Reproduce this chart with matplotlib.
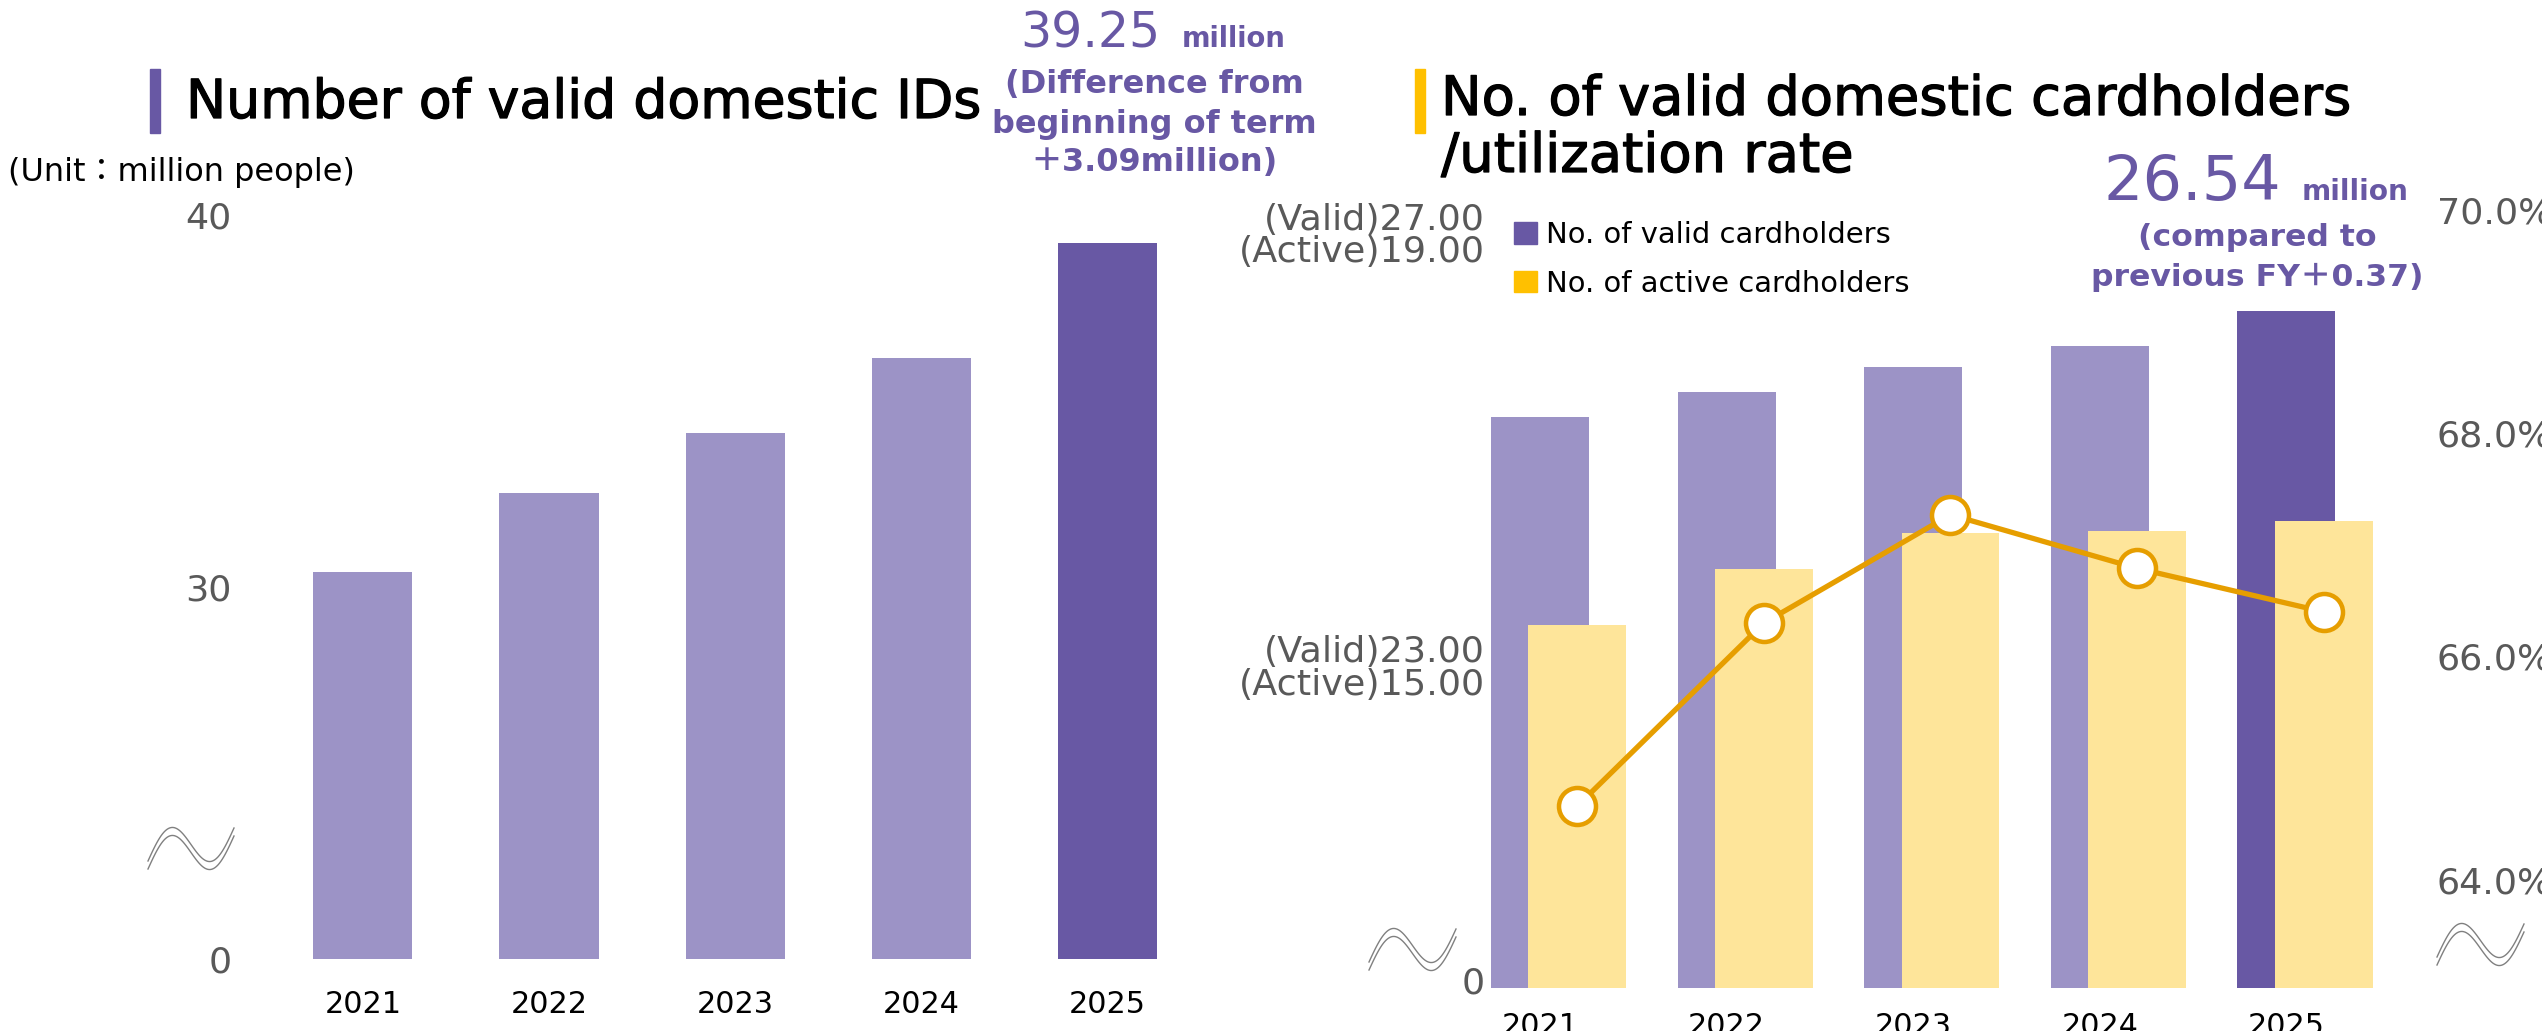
import numpy as np
import matplotlib
matplotlib.use("Agg")
import matplotlib.pyplot as plt
import matplotlib.patheffects as pe
from matplotlib.lines import Line2D
from matplotlib.patches import Rectangle

# ---------------- data ----------------
years = ["2021", "2022", "2023", "2024", "2025"]
ids_values = [30.41, 32.52, 34.13, 36.16, 39.25]          # million IDs
id_ticks = [0, 30, 40]
id_tick_labels = ["0", "30", "40"]

valid_cardholders = [25.42, 25.68, 25.95, 26.17, 26.54]   # million
active_cardholders = [16.52, 17.11, 17.49, 17.51, 17.62]  # million
utilization_rate = [64.66, 66.30, 67.27, 66.79, 66.40]    # %
rate_ticks = [64, 66, 68, 70]
rate_tick_labels = ["64.0%", "66.0%", "68.0%", "70.0%"]
card_tick_labels = ["0", "(Valid)23.00\n(Active)15.00", "(Valid)27.00\n(Active)19.00"]

# ---------------- style ----------------
W, H, DPI = 2542, 1031, 100
LIGHT_PURPLE = "#9c93c6"
DARK_PURPLE = "#6858a4"
LIGHT_YELLOW = "#fee59a"
GOLD = "#ffc000"
ORANGE = "#e69e00"
GREY = "#595959"

plt.rcParams['font.family'] = ['DejaVu Sans', 'Noto Sans CJK JP']

fig = plt.figure(figsize=(W / DPI, H / DPI), dpi=DPI)


def pt(px):
    return px * 72.0 / DPI


def rect(x0, y0, x1, y1):
    return [x0 / W, 1 - y1 / H, (x1 - x0) / W, (y1 - y0) / H]


def ftext(x, y, s, **kw):
    return fig.text(x / W, 1 - y / H, s, **kw)


def wave(x0, y0, w, h):
    t = np.linspace(0, 1, 60)
    for off in (0, 8):
        xs = x0 + t * w
        ys = y0 + off - h * t - 0.75 * h * np.sin(2 * np.pi * t)
        fig.add_artist(Line2D(xs / W, 1 - ys / H, color="#808080", lw=1.0))


heavy = [pe.withStroke(linewidth=0.9, foreground="black")]

# ---------------- left chart ----------------
ax1 = fig.add_axes(rect(269.7, 215, 1200.8, 959))


def fwd(v):
    v = np.asarray(v, dtype=float)
    return np.where(v <= 30, v / 3.0, v - 20.0)


def inv(u):
    u = np.asarray(u, dtype=float)
    return np.where(u <= 10, u * 3.0, u + 20.0)


ax1.set_yscale('function', functions=(fwd, inv))
x = np.arange(len(years))
colors1 = [LIGHT_PURPLE] * (len(years) - 1) + [DARK_PURPLE]
ax1.bar(x, ids_values, width=0.532, color=colors1)
ax1.set_xlim(-0.5, len(years) - 0.5)
ax1.set_ylim(0, 40)
ax1.set_yticks(id_ticks)
ax1.set_yticklabels(id_tick_labels)
ax1.set_xticks(x)
ax1.set_xticklabels(years)
ax1.tick_params(axis='y', length=0, pad=pt(38), labelsize=pt(36.5), labelcolor=GREY)
ax1.tick_params(axis='x', length=0, pad=pt(31), labelsize=pt(30.3), labelcolor="black")
for s in ax1.spines.values():
    s.set_visible(False)

# ---------------- right chart ----------------
ax2 = fig.add_axes(rect(1489, 210, 2379.7, 988))
ax3 = ax2.twinx()
ax4 = ax2.twinx()
colors2 = [LIGHT_PURPLE] * (len(years) - 1) + [DARK_PURPLE]
ax2.bar(x, valid_cardholders, width=0.525, color=colors2)
ax3.bar(x + 0.2, active_cardholders, width=0.525, color=LIGHT_YELLOW)
ax4.plot(x + 0.2, utilization_rate, color=ORANGE, lw=3.8, marker='o', ms=pt(37),
         mfc='white', mec=ORANGE, mew=pt(4.5), zorder=5)

ax2.set_xlim(-0.273, 4.5)
ax2.set_ylim(19.384, 27.608)
ax3.set_ylim(12.683, 20.908)
ax4.set_ylim(63.03, 70.0)

lo, hi = ax2.get_ylim()
card_tick_pos = [lo + f * (hi - lo) for f in (0.0103, 0.4139, 0.9704)]
ax2.set_yticks(card_tick_pos)
ax2.set_yticklabels(card_tick_labels)
for lab in ax2.get_yticklabels():
    lab.set_linespacing(0.95)
ax2.tick_params(axis='y', length=0, pad=pt(4), labelsize=pt(36.5), labelcolor=GREY)
ax2.set_xticks(x)
ax2.set_xticklabels(years)
ax2.tick_params(axis='x', length=0, pad=pt(24), labelsize=pt(30.3), labelcolor="black")

ax3.set_yticks([])
ax4.set_yticks(rate_ticks)
ax4.set_yticklabels(rate_tick_labels)
ax4.tick_params(axis='y', length=0, pad=pt(57), labelsize=pt(36.5), labelcolor=GREY)
for a in (ax2, ax3, ax4):
    for s in a.spines.values():
        s.set_visible(False)

# legend
fig.legend(handles=[Rectangle((0, 0), 1, 1, color=DARK_PURPLE),
                    Rectangle((0, 0), 1, 1, color=GOLD)],
           labels=["No. of valid cardholders", "No. of active cardholders"],
           loc='upper left', bbox_to_anchor=(1514 / W, 1 - 221 / H),
           frameon=False, fontsize=pt(29), handlelength=0.8, handleheight=0.75,
           handletextpad=0.3, labelspacing=0.72, borderpad=0, borderaxespad=0)

# ---------------- titles & annotations ----------------
fig.add_artist(Rectangle((150 / W, 1 - 133 / H), 10 / W, 64 / H, color=DARK_PURPLE,
                         transform=fig.transFigure))
ftext(186, 103, "Number of valid domestic IDs", fontsize=pt(53.7), va='center', ha='left',
      path_effects=heavy)
ftext(8, 173, "(Unit：million people)", fontsize=pt(32), va='center', ha='left')

ftext(1020, 47, "39.25", fontsize=pt(49), color=DARK_PURPLE,
      va='baseline', ha='left')
ftext(1182, 47, "million", fontsize=pt(27.5), color=DARK_PURPLE, fontweight='bold',
      va='baseline', ha='left')
for yy, s in zip((84, 125, 163), ("(Difference from", "beginning of term", "＋3.09million)")):
    ftext(1154, yy, s, fontsize=pt(32), color=DARK_PURPLE, fontweight='bold',
          va='center', ha='center')

fig.add_artist(Rectangle((1415 / W, 1 - 133 / H), 10 / W, 64 / H, color=GOLD,
                         transform=fig.transFigure))
ftext(1441, 100, "No. of valid domestic cardholders", fontsize=pt(54.3), va='center',
      ha='left', path_effects=heavy)
ftext(1441, 157, "/utilization rate", fontsize=pt(54.3), va='center', ha='left',
      path_effects=heavy)

ftext(2104, 200, "26.54", fontsize=pt(62), color=DARK_PURPLE,
      va='baseline', ha='left')
ftext(2302, 200, "million", fontsize=pt(28), color=DARK_PURPLE, fontweight='bold',
      va='baseline', ha='left')
ftext(2257, 238, "(compared to", fontsize=pt(31.5), color=DARK_PURPLE, fontweight='bold',
      va='center', ha='center')
ftext(2257, 277, "previous FY＋0.37)", fontsize=pt(31.5), color=DARK_PURPLE, fontweight='bold',
      va='center', ha='center')

# axis-break marks
wave(148, 861, 86, 33)
wave(1369, 962, 87, 33)
wave(2437, 957, 87, 33)

fig.savefig("out.png", dpi=DPI)
